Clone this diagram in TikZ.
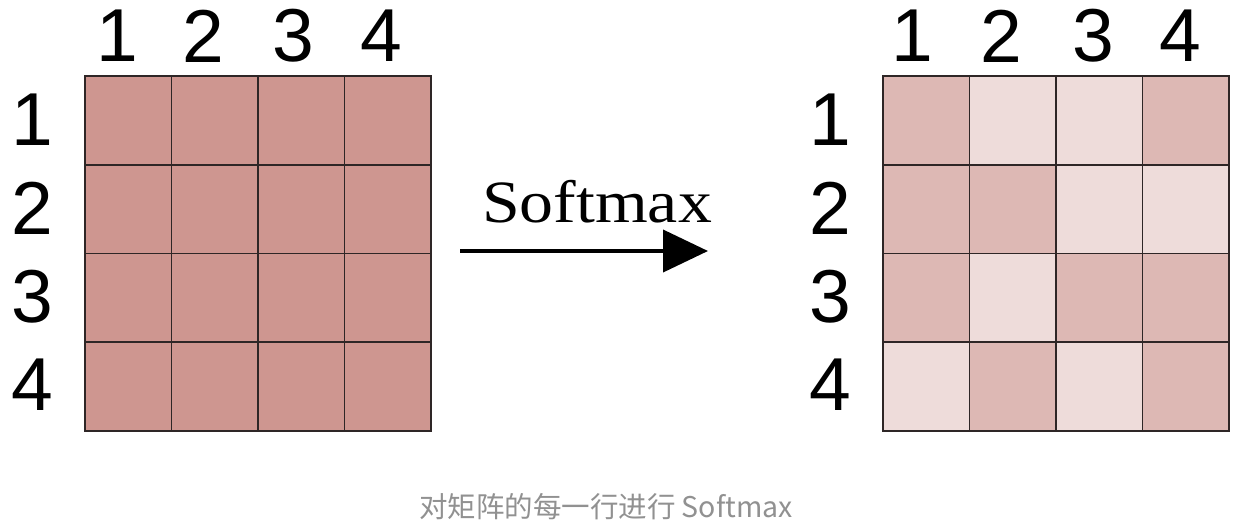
\documentclass[tikz,border=0pt]{standalone}
\usepackage{fontspec}
\setmainfont{Liberation Serif}
\newfontfamily\digitfont{Liberation Sans}
\newfontfamily\cjk{Noto Sans CJK SC}
\usetikzlibrary{arrows.meta}
\definecolor{cellfull}{HTML}{CE9690}
\definecolor{celldark}{HTML}{DDB8B4}
\definecolor{celllight}{HTML}{EEDCDA}
\definecolor{gridline}{HTML}{2E2626}
\definecolor{captiongray}{HTML}{919191}
\tikzset{
  cell/.style={draw=gridline, line width=1.8pt, minimum width=86.5pt, minimum height=88.75pt, inner sep=0pt, outer sep=0pt, anchor=north west},
  idx/.style={font=\digitfont\fontsize{75}{75}\selectfont, inner sep=0pt, anchor=center},
}
\begin{document}
\begin{tikzpicture}[x=1pt,y=-1pt]
\useasboundingbox (0,0) rectangle (1240,528);
% left matrix
\foreach \r in {1,...,4}{
  \foreach \c in {1,...,4}{
    \node[cell, fill=cellfull] (L-\r-\c) at ({85+(\c-1)*86.5},{76+(\r-1)*88.75}) {};
  }
}
% right matrix
\foreach \r/\c/\col in {1/1/celldark,1/2/celllight,1/3/celllight,1/4/celldark,
                        2/1/celldark,2/2/celldark,2/3/celllight,2/4/celllight,
                        3/1/celldark,3/2/celllight,3/3/celldark,3/4/celldark,
                        4/1/celllight,4/2/celldark,4/3/celllight,4/4/celldark}{
  \node[cell, fill=\col] (R-\r-\c) at ({883+(\c-1)*86.5},{76+(\r-1)*88.75}) {};
}
% column labels
\foreach \c/\x in {1/117,2/203,3/293,4/381}{
  \node[idx] (LC-\c) at (\x,36) {\c};
}
\foreach \c/\x in {1/912,2/1001,3/1093,4/1180}{
  \node[idx] (RC-\c) at (\x,36) {\c};
}
% row labels
\foreach \r/\y in {1/120,2/208,3/297,4/385}{
  \node[idx] (LR-\r) at (32,\y) {\r};
  \node[idx] (RR-\r) at (830,\y) {\r};
}
% arrow
\coordinate (arrS) at (460,251);
\coordinate (arrE) at (708,251);
\draw[line width=4pt, -{Triangle[length=45pt,width=42pt]}] (arrS) -- (arrE);
\node[font=\fontsize{60}{60}\selectfont, inner sep=0pt, anchor=base] (sm) at (597,222) {\scalebox{1.13}[1]{Softmax}};
% caption
\node[font=\cjk\fontsize{28.5}{28.5}\selectfont, text=captiongray, inner sep=0pt] (cap) at (606,507) {对矩阵的每一行进行 Softmax};
\end{tikzpicture}
\end{document}
